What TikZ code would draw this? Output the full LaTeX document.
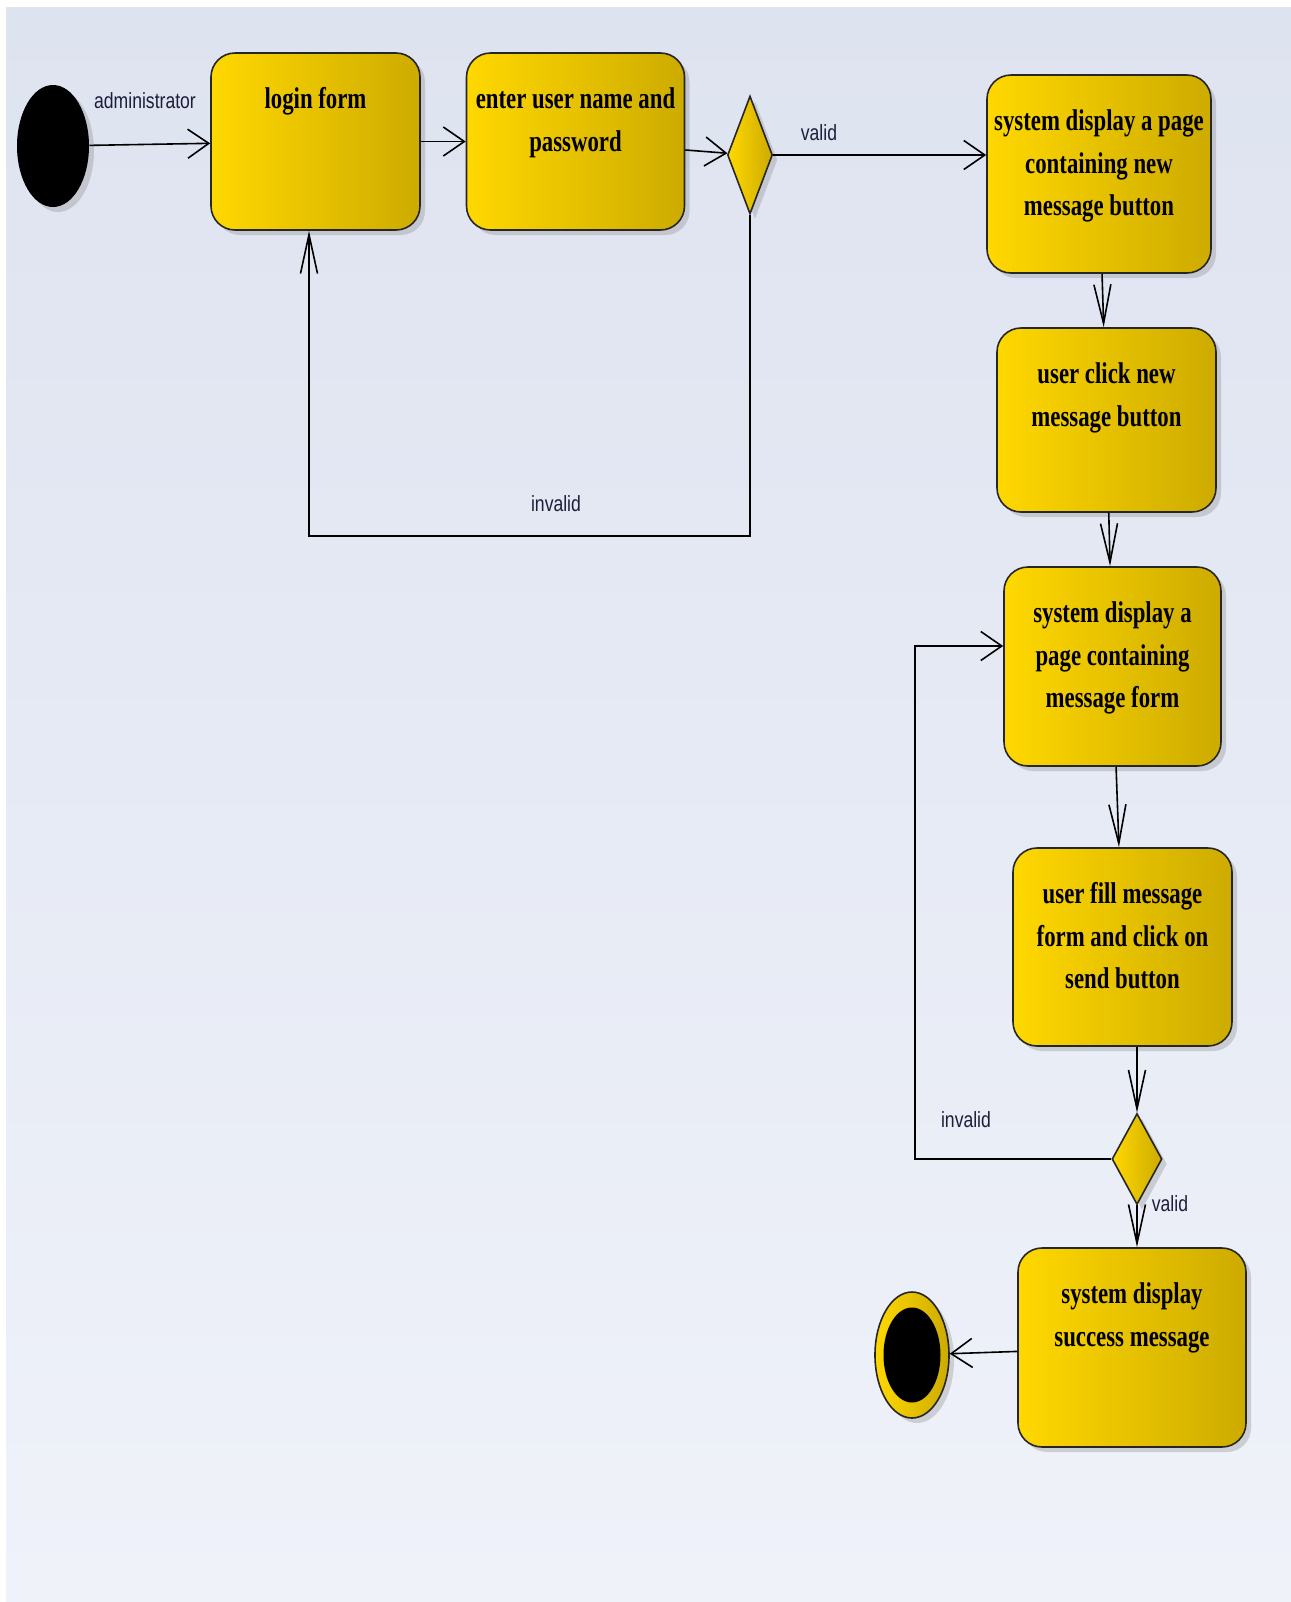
\documentclass[tikz,border=0pt]{standalone}
\usepackage{fontspec}
\usetikzlibrary{arrows.meta, shapes.geometric, shadows}
\newfontfamily\boxfont[FakeStretch=0.76]{Liberation Serif}
\newfontfamily\lblfont[FakeStretch=0.8]{Liberation Sans}
\definecolor{goldL}{RGB}{255,216,0}
\definecolor{goldR}{RGB}{205,171,0}
\definecolor{bgtop}{RGB}{222,227,240}
\definecolor{bgbot}{RGB}{239,242,249}
\definecolor{lbltext}{RGB}{30,30,60}

\tikzset{
    softshadow/.style={drop shadow={shadow xshift=2.5pt, shadow yshift=-2.5pt, opacity=0.3}},
    act/.style={rectangle, rounded corners=12pt, draw=black!85, line width=0.8pt,
                left color=goldL, right color=goldR, inner sep=0pt, softshadow},
    acttext/.style={anchor=north, yshift=-17.5pt, inner sep=0pt, align=center,
                font=\boxfont\bfseries\fontsize{15pt}{21.3pt}\selectfont},
    decision/.style={diamond, draw=black!85, line width=0.8pt,
                left color=goldL, right color=goldR, inner sep=0pt, softshadow},
    lbl/.style={font=\lblfont\fontsize{11pt}{13pt}\selectfont, text=lbltext, inner sep=0pt},
    flowh/.style={-{Straight Barb[length=10.5pt, width=14.5pt]}, line width=0.8pt},
    flowv/.style={-{Straight Barb[length=19.5pt, width=8.5pt]}, line width=0.8pt}
}

\begin{document}
\begin{tikzpicture}[x=0.5pt, y=-0.5pt]     % one unit = one pixel of the sketch

      \useasboundingbox (0,0) rectangle (1291,1602);
      % background
      \fill[white] (0,0) rectangle (1291,1602);
      \shade[top color=bgtop, bottom color=bgbot] (6,7) rectangle (1291,1602);

      % start and end
      \node[ellipse, fill=black, minimum width=36pt, minimum height=61pt, inner sep=0pt, softshadow] (initial) at (53,146) {};
      \node[ellipse, draw=black!85, line width=0.8pt, left color=goldL, right color=goldR,
            minimum width=37pt, minimum height=63pt, inner sep=0pt, softshadow] (final) at (912,1355) {};
      \node[ellipse, fill=black, minimum width=28.5pt, minimum height=47.5pt, inner sep=0pt] (finalin) at (final) {};

      % login row
      \node[act, minimum width=104.5pt, minimum height=88.5pt, label={[acttext]north:login form}] (login) at (315.5,141.5) {};
      \node[act, minimum width=109pt, minimum height=88.5pt, label={[acttext]north:enter user name and\\password}] (enter) at (575.5,141.5) {};
      \node[decision, minimum width=22.5pt, minimum height=59pt] (check1) at (750,155) {};

      % right column
      \node[act, minimum width=112pt, minimum height=99pt, label={[acttext]north:system display a page\\containing new\\message button}] (page1) at (1099,174) {};
      \node[act, minimum width=109.5pt, minimum height=92pt, label={[acttext]north:user click new\\message button}] (click) at (1106.5,420) {};
      \node[act, minimum width=108.5pt, minimum height=99.5pt, label={[acttext]north:system display a\\page containing\\message form}] (page2) at (1112.5,666.5) {};
      \node[act, minimum width=109.5pt, minimum height=99pt, label={[acttext]north:user fill message\\form and click on\\send button}] (fill) at (1122.5,947) {};
      \node[decision, minimum width=25pt, minimum height=45.5pt] (check2) at (1137,1159) {};
      \node[act, minimum width=114pt, minimum height=99.5pt, label={[acttext]north:system display\\success message}] (success) at (1132,1347.5) {};

      % loop corners
      \coordinate (loop1) at (309,536);
      \coordinate (loop2) at (915,646);

      % flows
      \draw[flowh] (initial) -- (login);
      \draw[flowh] (login) -- (enter);
      \draw[flowh] (enter) -- (check1);
      \draw[flowh] (check1.east) -- (check1.east -| page1.west);
      \draw[flowv] (check1.south) |- (loop1) -- (loop1 |- login.south);
      \draw[flowv] (page1) -- (click);
      \draw[flowv] (click) -- (page2);
      \draw[flowv] (page2) -- (fill);
      \draw[flowv] (fill.south -| check2.north) -- (check2.north);
      \draw[flowh] (check2.west) -| (loop2) -- (loop2 -| page2.west);
      \draw[flowv] (check2.south) -- (check2.south |- success.north);
      \draw[flowh] (success) -- (final);

      % guard labels
      \node[lbl] (actor) at (145,101) {administrator};
      \node[lbl] (valid1) at (819,133) {valid};
      \node[lbl] (invalid1) at (556,504) {invalid};
      \node[lbl] (invalid2) at (966,1120) {invalid};
      \node[lbl] (valid2) at (1170,1204) {valid};
    \end{tikzpicture}
\end{document}
